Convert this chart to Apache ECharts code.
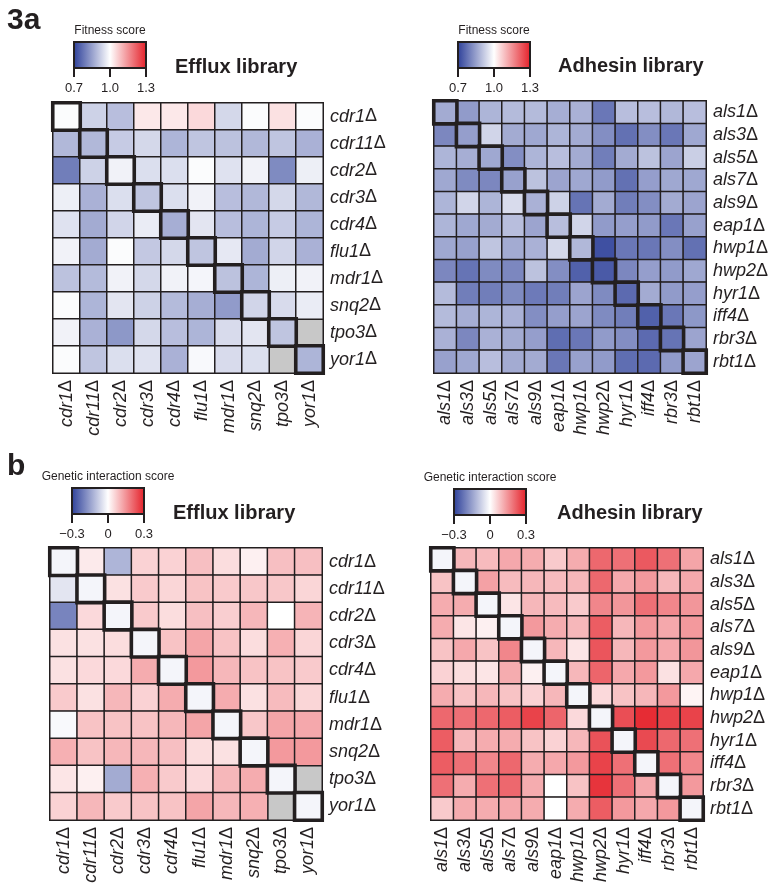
<!DOCTYPE html>
<html>
<head>
<meta charset="utf-8">
<script src="https://cdn.jsdelivr.net/npm/echarts@6/dist/echarts.min.js"></script>
<style>html,body{margin:0;padding:0;background:#fff}#c{width:779px;height:893px}</style>
</head>
<body>
<div id="c"></div>
<script>
// ---------------- data ----------------
const effluxGenes = ['cdr1Δ','cdr11Δ','cdr2Δ','cdr3Δ','cdr4Δ','flu1Δ','mdr1Δ','snq2Δ','tpo3Δ','yor1Δ'];
const adhesinGenes = ['als1Δ','als3Δ','als5Δ','als7Δ','als9Δ','eap1Δ','hwp1Δ','hwp2Δ','hyr1Δ','iff4Δ','rbr3Δ','rbt1Δ'];

const fitnessTicks = ['0.7','1.0','1.3'];
const giTicks = ['\u22120.3','0','0.3'];

// rows = y gene (top to bottom), columns = x gene (left to right); null = not measured
const effluxFitness = [
  [0.995,0.93,0.90,1.03,1.03,1.05,0.94,0.995,1.04,0.995],
  [0.89,0.89,0.92,0.94,0.885,0.91,0.905,0.89,0.91,0.88],
  [0.80,0.93,0.98,0.95,0.95,0.995,0.955,0.98,0.82,0.975],
  [0.975,0.88,0.95,0.91,0.95,0.98,0.90,0.89,0.94,0.89],
  [0.955,0.87,0.935,0.97,0.875,0.96,0.90,0.885,0.92,0.885],
  [0.98,0.87,0.995,0.915,0.94,0.91,0.965,0.87,0.935,0.88],
  [0.905,0.895,0.98,0.94,0.98,0.985,0.905,0.885,0.975,0.98],
  [0.995,0.885,0.96,0.93,0.895,0.875,0.845,0.935,0.945,0.97],
  [0.98,0.88,0.84,0.94,0.90,0.885,0.945,0.96,0.91,null],
  [0.995,0.91,0.95,0.955,0.88,0.99,0.945,0.95,null,0.885]
];
const adhesinFitness = [
  [0.87,0.845,0.885,0.895,0.895,0.875,0.88,0.79,0.90,0.90,0.89,0.90],
  [0.815,0.85,0.935,0.87,0.865,0.885,0.87,0.825,0.78,0.825,0.79,0.865],
  [0.885,0.875,0.865,0.825,0.885,0.90,0.87,0.80,0.87,0.905,0.86,0.925],
  [0.865,0.82,0.815,0.855,0.905,0.86,0.865,0.845,0.78,0.85,0.865,0.865],
  [0.885,0.935,0.885,0.945,0.88,0.93,0.785,0.87,0.80,0.825,0.87,0.86],
  [0.885,0.865,0.87,0.90,0.86,0.90,0.935,0.845,0.85,0.845,0.79,0.855],
  [0.865,0.855,0.91,0.87,0.88,0.94,0.89,0.73,0.79,0.79,0.825,0.78],
  [0.815,0.785,0.82,0.815,0.905,0.825,0.755,0.745,0.815,0.85,0.845,0.865],
  [0.895,0.80,0.80,0.82,0.795,0.80,0.86,0.82,0.77,0.87,0.845,0.85],
  [0.895,0.875,0.885,0.88,0.825,0.85,0.86,0.82,0.80,0.755,0.79,0.84],
  [0.88,0.815,0.88,0.87,0.85,0.775,0.79,0.845,0.825,0.77,0.785,0.86],
  [0.855,0.865,0.90,0.87,0.87,0.79,0.855,0.845,0.775,0.77,0.845,0.86]
];
const effluxGI = [
  [-0.015,0.028,-0.114,0.06,0.06,0.085,0.045,0.02,0.085,0.085],
  [-0.04,-0.015,0.04,0.07,0.055,0.08,0.07,0.075,0.075,0.055],
  [-0.19,0.05,-0.015,0.07,0.045,0.085,0.065,0.095,0.0,0.10],
  [0.04,0.04,0.045,-0.015,0.08,0.12,0.08,0.045,0.105,0.055],
  [0.04,0.05,0.05,0.11,-0.015,0.135,0.095,0.08,0.08,0.07],
  [0.07,0.04,0.095,0.06,0.11,-0.015,0.11,0.04,0.09,0.055],
  [-0.01,0.08,0.08,0.08,0.095,0.12,-0.015,0.075,0.12,0.115],
  [0.105,0.08,0.095,0.095,0.085,0.045,0.04,-0.015,0.135,0.135],
  [0.035,0.02,-0.13,0.105,0.07,0.05,0.095,0.11,-0.015,null],
  [0.06,0.095,0.07,0.08,0.08,0.12,0.095,0.105,null,-0.015]
];
const adhesinGI = [
  [-0.015,0.095,0.09,0.115,0.11,0.07,0.11,0.20,0.19,0.22,0.19,0.12],
  [0.08,-0.015,0.125,0.09,0.095,0.09,0.095,0.20,0.115,0.135,0.095,0.115],
  [0.11,0.11,-0.015,0.035,0.095,0.09,0.07,0.16,0.14,0.19,0.16,0.14],
  [0.11,0.035,0.02,-0.015,0.135,0.11,0.095,0.215,0.095,0.135,0.115,0.135],
  [0.08,0.115,0.08,0.16,-0.015,0.095,0.035,0.225,0.095,0.135,0.115,0.14],
  [0.06,0.045,0.035,0.11,0.02,-0.015,0.095,0.205,0.115,0.135,0.04,0.115],
  [0.11,0.08,0.095,0.08,0.06,0.095,-0.015,0.05,0.08,0.095,0.135,0.015],
  [0.20,0.19,0.20,0.215,0.25,0.205,0.05,-0.015,0.235,0.28,0.25,0.25],
  [0.215,0.095,0.11,0.11,0.08,0.06,0.095,0.23,-0.015,0.24,0.20,0.19],
  [0.215,0.19,0.16,0.20,0.11,0.115,0.135,0.25,0.19,-0.015,0.19,0.16],
  [0.19,0.11,0.19,0.20,0.11,0.0,0.08,0.27,0.19,0.115,-0.015,0.135],
  [0.07,0.11,0.11,0.115,0.11,0.0,0.11,0.215,0.135,0.115,0.135,-0.015]
];

// ---------------- styling ----------------
const INK = '#231f20';
const FONT = '"Liberation Sans", Arial, Helvetica, sans-serif';
const BLUE = '#2a3d98', RED = '#e41d26';
const MISSING = '#c8c8c8';

const panels = [
  {genes: effluxGenes, matrix: effluxFitness, grid: {left: 53, top: 103, width: 270, height: 270}},
  {genes: adhesinGenes, matrix: adhesinFitness, grid: {left: 434, top: 101, width: 272, height: 272}},
  {genes: effluxGenes, matrix: effluxGI, grid: {left: 50, top: 548, width: 272, height: 272}},
  {genes: adhesinGenes, matrix: adhesinGI, grid: {left: 431, top: 548, width: 272, height: 272}}
];

function labelFmt(v) { return '{i|' + v.slice(0, -1) + '}{d|' + v.slice(-1) + '}'; }
const labelRich = {
  i: {fontStyle: 'italic', fontSize: 18, fontFamily: FONT, color: INK},
  d: {fontSize: 18, fontFamily: FONT, color: INK}
};

function buildData(matrix) {
  const normal = [], diag = [], missing = [];
  matrix.forEach((row, yi) => row.forEach((v, xi) => {
    if (v === null) { missing.push([xi, yi, 0]); return; }
    if (xi === yi) diag.push({value: [xi, yi, v], itemStyle: {borderWidth: 3.6}});
    else normal.push([xi, yi, v]);
  }));
  return {cells: normal.concat(diag), missing};
}

const grids = [], xAxes = [], yAxes = [], series = [], missingSeries = [];
panels.forEach((p, i) => {
  grids.push(Object.assign({containLabel: false}, p.grid));
  xAxes.push({
    type: 'category', gridIndex: i, data: p.genes, position: 'bottom',
    axisLine: {show: false}, axisTick: {show: false}, splitLine: {show: false},
    axisLabel: {rotate: 90, margin: 7, interval: 0, formatter: labelFmt, rich: labelRich}
  });
  yAxes.push({
    type: 'category', gridIndex: i, data: p.genes, inverse: true, position: 'right',
    axisLine: {show: false}, axisTick: {show: false}, splitLine: {show: false},
    axisLabel: {margin: 7, interval: 0, formatter: labelFmt, rich: labelRich}
  });
  const d = buildData(p.matrix);
  series.push({
    type: 'heatmap', xAxisIndex: i, yAxisIndex: i, data: d.cells, z: 2,
    itemStyle: {borderColor: INK, borderWidth: 1.5},
    emphasis: {disabled: true}, progressive: 0, animation: false
  });
  if (d.missing.length) missingSeries.push({
    type: 'heatmap', xAxisIndex: i, yAxisIndex: i, data: d.missing, z: 1,
    itemStyle: {color: MISSING, borderColor: INK, borderWidth: 1.5},
    emphasis: {disabled: true}, progressive: 0, animation: false
  });
});
const allSeries = series.concat(missingSeries);

// ---------------- colour bars (legends) ----------------
function colorBar(cx, top, title, ticks) {
  const w = 72, h = 26, left = cx - w / 2;
  const els = [];
  els.push({type: 'text', style: {text: title, x: cx, y: top - 11, align: 'center', verticalAlign: 'middle',
    font: '12px ' + FONT, fill: INK}});
  els.push({type: 'rect', shape: {x: left, y: top, width: w, height: h},
    style: {fill: {type: 'linear', x: 0, y: 0, x2: 1, y2: 0,
      colorStops: [{offset: 0, color: BLUE}, {offset: 0.5, color: '#ffffff'}, {offset: 1, color: RED}]},
      stroke: INK, lineWidth: 2}});
  ticks.forEach((t, k) => {
    const x = left + k * w / (ticks.length - 1);
    els.push({type: 'line', shape: {x1: x, y1: top + h, x2: x, y2: top + h + 9}, style: {stroke: INK, lineWidth: 2}});
    els.push({type: 'text', style: {text: t, x: x, y: top + h + 20, align: 'center', verticalAlign: 'middle',
      font: '13px ' + FONT, fill: INK}});
  });
  return els;
}
function txt(text, x, y, font, align) {
  return {type: 'text', style: {text, x, y, align: align || 'left', verticalAlign: 'middle', font, fill: INK}};
}

const graphics = [].concat(
  [txt('3a', 7, 21, 'bold 30px ' + FONT)],
  [txt('b', 7, 467, 'bold 30px ' + FONT)],
  colorBar(110, 42, 'Fitness score', fitnessTicks),
  colorBar(494, 42, 'Fitness score', fitnessTicks),
  colorBar(108, 488, 'Genetic interaction score', giTicks),
  colorBar(490, 489, 'Genetic interaction score', giTicks),
  [txt('Efflux library', 175, 67, 'bold 20px ' + FONT),
   txt('Adhesin library', 558, 66, 'bold 20px ' + FONT),
   txt('Efflux library', 173, 513, 'bold 20px ' + FONT),
   txt('Adhesin library', 557, 513, 'bold 20px ' + FONT)]
);

const chart = echarts.init(document.getElementById('c'), null, {renderer: 'canvas'});
chart.setOption({
  backgroundColor: '#ffffff',
  animation: false,
  textStyle: {fontFamily: FONT},
  grid: grids, xAxis: xAxes, yAxis: yAxes,
  visualMap: [
    {type: 'continuous', show: false, seriesIndex: [0, 1], dimension: 2, min: 0.7, max: 1.3,
     inRange: {color: [BLUE, '#ffffff', RED]}},
    {type: 'continuous', show: false, seriesIndex: [2, 3], dimension: 2, min: -0.3, max: 0.3,
     inRange: {color: [BLUE, '#ffffff', RED]}}
  ],
  series: allSeries,
  graphic: graphics.map(g => Object.assign({z: 10, silent: true}, g))
});
</script>
</body>
</html>
